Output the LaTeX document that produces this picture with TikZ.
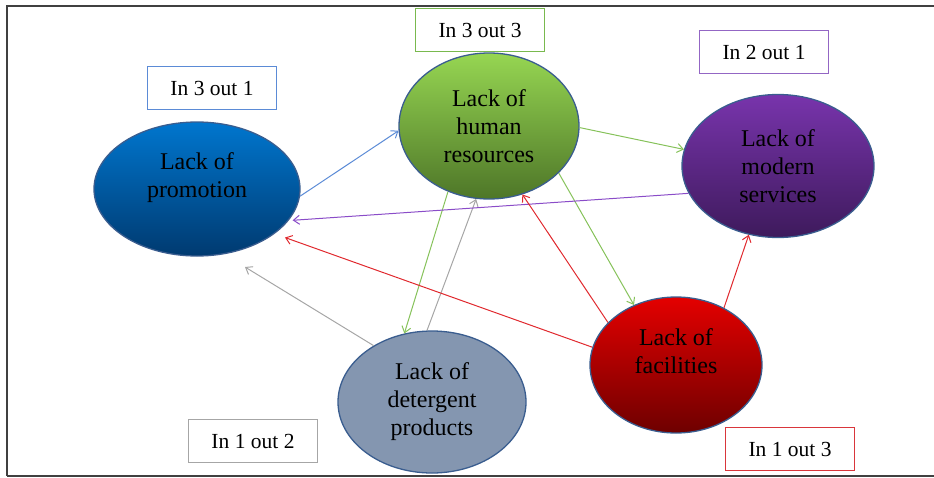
\documentclass[tikz,border=0pt]{standalone}
\usepackage{fontspec}
\setmainfont{Liberation Serif}
\usetikzlibrary{shapes.geometric,arrows.meta}
\definecolor{ellborder}{HTML}{3A5D8F}
\definecolor{arrblue}{HTML}{5B8BD6}
\definecolor{arrgreen}{HTML}{86C25A}
\definecolor{arrgray}{HTML}{A6A6A6}
\definecolor{arrpurple}{HTML}{8A4CC8}
\definecolor{arrred}{HTML}{E0292E}
\definecolor{boxblue}{HTML}{5B8BD6}
\definecolor{boxgreen}{HTML}{79B94E}
\definecolor{boxpurple}{HTML}{9366C4}
\definecolor{boxred}{HTML}{D9363B}
\definecolor{boxgray}{HTML}{A6A6A6}
\definecolor{framecol}{HTML}{404040}
\definecolor{promtop}{RGB}{0,118,206}
\definecolor{prombot}{RGB}{0,58,112}
\definecolor{humtop}{RGB}{150,214,82}
\definecolor{humbot}{RGB}{78,118,40}
\definecolor{modtop}{RGB}{120,52,172}
\definecolor{modbot}{RGB}{62,26,92}
\definecolor{factop}{RGB}{228,0,0}
\definecolor{facbot}{RGB}{110,0,0}
\definecolor{detfill}{RGB}{132,150,176}
\tikzset{
  ell/.style={ellipse, draw=ellborder, line width=1.3pt, inner sep=0pt, align=center,
              font=\fontsize{24}{28}\selectfont, text=black},
  lab/.style={draw, line width=1.6pt, fill=white, minimum width=129pt, minimum height=43pt,
              inner sep=0pt, font=\fontsize{21.5}{26}\selectfont},
  arr/.style={-{Straight Barb[length=6pt,width=9pt]}, line width=1pt}
}
\begin{document}
\begin{tikzpicture}[x=1pt,y=-1pt]
\useasboundingbox (0,0) rectangle (934,477);
% frame
\draw[framecol, line width=2.6pt] (7,476) -- (7,6) -- (934,6);
\draw[framecol, line width=1.5pt] (7,476) -- (934,476);
% ellipses
\node[ell, minimum width=206pt, minimum height=134pt, top color=promtop, bottom color=prombot] (prom) at (197,189) {Lack of\\promotion\\ \mbox{}};
\node[ell, minimum width=180pt, minimum height=146pt, top color=humtop, bottom color=humbot] (hum) at (489,126) {Lack of\\human\\resources};
\node[ell, minimum width=192pt, minimum height=143pt, top color=modtop, bottom color=modbot] (mod) at (778,166) {Lack of\\modern\\services};
\node[ell, minimum width=172pt, minimum height=136pt, top color=factop, bottom color=facbot] (fac) at (676,365) {Lack of\\facilities\\ \mbox{}};
\node[ell, minimum width=188pt, minimum height=142pt, fill=detfill] (det) at (432,402) {Lack of\\detergent\\products};
% count labels
\node[lab, draw=boxblue] (lprom) at (212,88) {In 3 out 1};
\node[lab, draw=boxgreen] (lhum) at (480,30) {In 3 out 3};
\node[lab, draw=boxpurple] (lmod) at (764,52) {In 2 out 1};
\node[lab, draw=boxred] (lfac) at (790,449) {In 1 out 3};
\node[lab, draw=boxgray] (ldet) at (253,441) {In 1 out 2};
% free end
\coordinate (detfree) at (245,267);
% connectors
\draw[arr, arrblue] (prom.-4) -- (hum.183);
\draw[arr, arrgreen] (hum.-1) -- (mod.170);
\draw[arr, arrgreen] (hum.-34) -- (fac.125);
\draw[arr, arrgreen] (hum.238) -- (det.112);
\draw[arr, arrgray] (det.94) -- (hum.260);
\draw[arr, arrgray] (det.136) -- (detfree);
\draw[arr, arrpurple, shorten >=4pt] (mod.197) -- (prom.-19);
\draw[arr, arrred, shorten >=11pt] (fac.168) -- (prom.-30);
\draw[arr, arrred] (fac.148) -- (hum.-64);
\draw[arr, arrred] (fac.50) -- (mod.247);
\end{tikzpicture}
\end{document}
